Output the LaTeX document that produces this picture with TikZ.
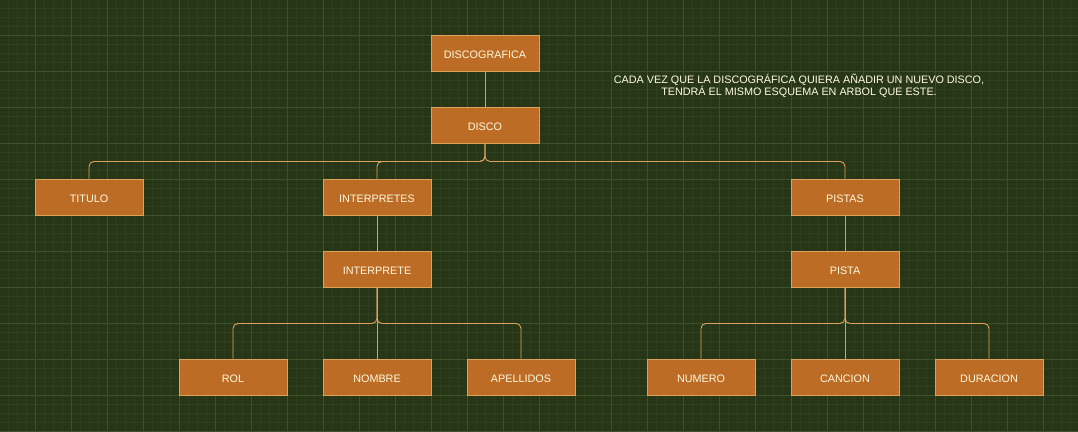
\documentclass[tikz,border=0pt]{standalone}
\usepackage{fontspec}
\setmainfont{Liberation Sans}
\definecolor{bg}{HTML}{283618}
\definecolor{gridminor}{HTML}{2E3E1E}
\definecolor{gridmajor}{HTML}{3C5129}
\definecolor{boxfill}{HTML}{BC6C25}
\definecolor{boxline}{HTML}{DDA15E}
\definecolor{txt}{HTML}{FEFAE0}
\begin{document}
\begin{tikzpicture}[x=1pt,y=-1pt,
  box/.style={rectangle, minimum width=108pt, minimum height=36pt, inner sep=0pt,
    fill=boxfill, draw=boxline, line width=0.9pt, text=txt,
    text height=10.2pt, text depth=0pt,
    font=\fontsize{10.8}{13}\selectfont},
  link/.style={draw=boxline, line width=0.9pt, rounded corners=5pt},
  note/.style={text=txt, align=center, font=\fontsize{10.8}{12.5}\selectfont}]
\fill[bg] (0,0) rectangle (1078,431);
\useasboundingbox (0,0) rectangle (1078,431);
\foreach \i in {0,...,120} {
  \draw[gridminor, line width=0.6pt] ({\i*9-0.5},0) -- ({\i*9-0.5},431);
}
\foreach \i in {0,...,48} {
  \draw[gridminor, line width=0.6pt] (0,{\i*9-0.5}) -- (1078,{\i*9-0.5});
}
\foreach \i in {0,...,30} {
  \draw[gridmajor, line width=0.8pt] ({\i*36-0.5},0) -- ({\i*36-0.5},431);
}
\foreach \i in {0,...,12} {
  \draw[gridmajor, line width=0.8pt] (0,{\i*36-0.5}) -- (1078,{\i*36-0.5});
}

\node[box] (discografica) at (485,53) {DISCOGRAFICA};
\node[box] (disco) at (485,125) {DISCO};
\node[box] (titulo) at (89,197) {TITULO};
\node[box] (interpretes) at (377,197) {INTERPRETES};
\node[box] (pistas) at (845,197) {PISTAS};
\node[box] (interprete) at (377,269) {INTERPRETE};
\node[box] (pista) at (845,269) {PISTA};
\node[box] (rol) at (233,377) {ROL};
\node[box] (nombre) at (377,377) {NOMBRE};
\node[box] (apellidos) at (521,377) {APELLIDOS};
\node[box] (numero) at (701,377) {NUMERO};
\node[box] (cancion) at (845,377) {CANCION};
\node[box] (duracion) at (989,377) {DURACION};

\node[note] (nota) at (799,86) {CADA VEZ QUE LA DISCOGRÁFICA QUIERA AÑADIR UN NUEVO DISCO,\\TENDRÁ EL MISMO ESQUEMA EN ARBOL QUE ESTE.};

\draw[link] (discografica.south) -- (disco.north);
\draw[link] (disco.south) -- ++(0,18) -| (titulo.north);
\draw[link] (disco.south) -- ++(0,18) -| (interpretes.north);
\draw[link] (disco.south) -- ++(0,18) -| (pistas.north);
\draw[link] (interpretes.south) -- (interprete.north);
\draw[link] (pistas.south) -- (pista.north);
\draw[link] (interprete.south) -- ++(0,36) -| (rol.north);
\draw[link] (interprete.south) -- (nombre.north);
\draw[link] (interprete.south) -- ++(0,36) -| (apellidos.north);
\draw[link] (pista.south) -- ++(0,36) -| (numero.north);
\draw[link] (pista.south) -- (cancion.north);
\draw[link] (pista.south) -- ++(0,36) -| (duracion.north);
\end{tikzpicture}
\end{document}
